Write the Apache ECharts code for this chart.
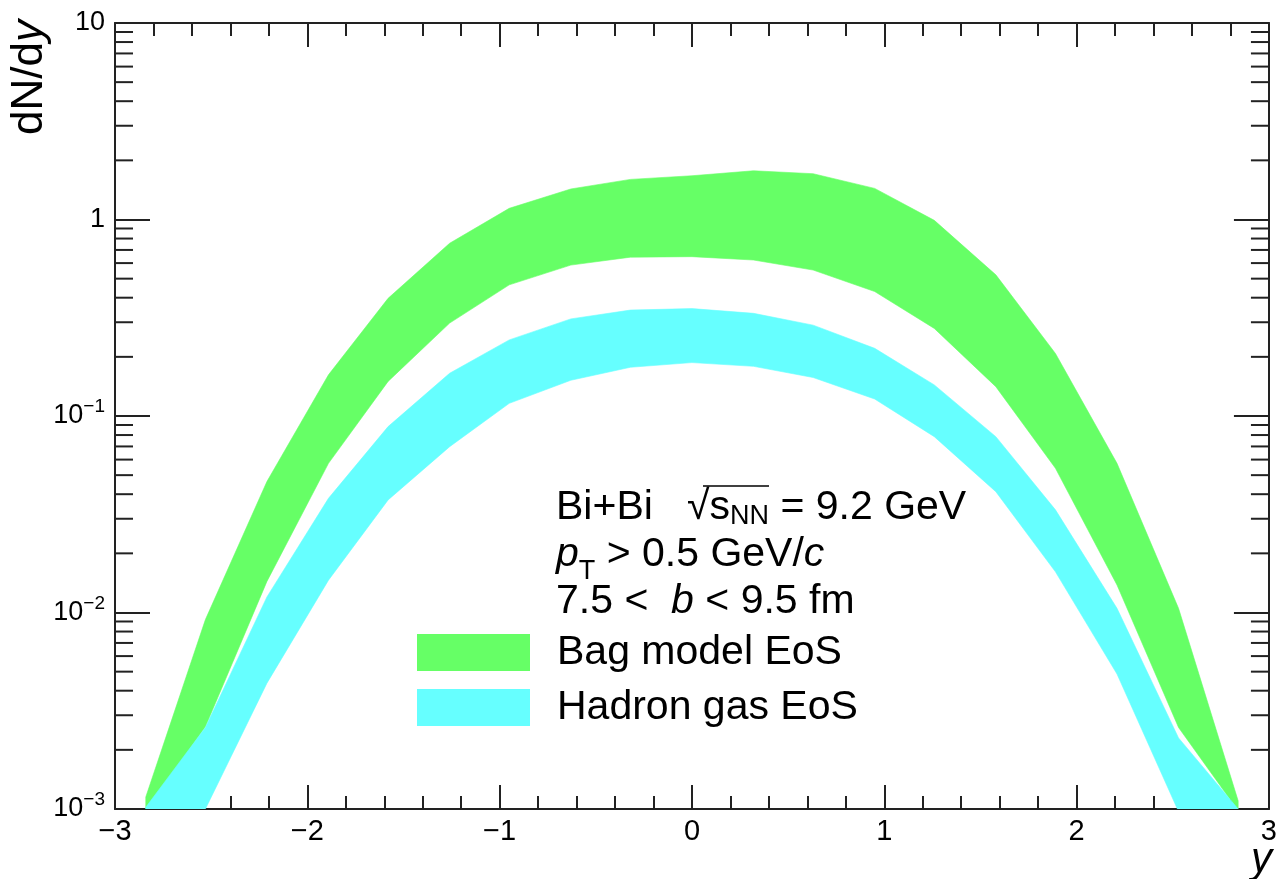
<!DOCTYPE html>
<html><head><meta charset="utf-8">
<script src="https://cdn.jsdelivr.net/npm/echarts@6/dist/echarts.min.js"></script>
<style>html,body{margin:0;padding:0;background:#fff}#c{width:1280px;height:879px}</style>
</head><body><div id="c"></div>
<script>
// ---- data ----
const rapidity = [-2.84,-2.53,-2.21,-1.89,-1.58,-1.26,-0.95,-0.63,-0.32,0,0.32,0.63,0.95,1.26,1.58,1.89,2.21,2.53,2.84];
const bagUpper = [0.00115,0.0092,0.0464,0.162,0.397,0.757,1.14,1.43,1.60,1.67,1.77,1.71,1.44,0.99,0.523,0.208,0.0574,0.0105,0.0011];
const bagLower = [0.00098,0.00262,0.0144,0.0574,0.150,0.297,0.465,0.586,0.643,0.647,0.622,0.553,0.430,0.279,0.141,0.0542,0.0138,0.0026,0.00098];
const hadronUpper = [0.00102,0.0026,0.0120,0.0381,0.0883,0.165,0.244,0.312,0.346,0.352,0.333,0.290,0.221,0.144,0.0785,0.0333,0.0105,0.0023,0.00100];
const hadronLower = [0.0004,0.00100,0.00437,0.0146,0.0374,0.0698,0.116,0.152,0.177,0.187,0.179,0.157,0.122,0.0785,0.0412,0.0161,0.00486,0.00097,0.0004];
const yMinorTicks = [0.002,0.003,0.004,0.005,0.006,0.007,0.008,0.009,
  0.02,0.03,0.04,0.05,0.06,0.07,0.08,0.09,
  0.2,0.3,0.4,0.5,0.6,0.7,0.8,0.9,
  2,3,4,5,6,7,8,9];
const seriesNames = ['Bag model EoS','Hadron gas EoS'];
const seriesColors = ['#66ff66','#66ffff'];

const FONT = "'Liberation Sans', Arial, sans-serif";
const AX = '#222';

function bandSeries(name, color, upper, lower) {
  return {
    type: 'custom', name: name, coordinateSystem: 'cartesian2d',
    xAxisIndex: 0, yAxisIndex: 0, silent: true,
    itemStyle: { color: color },
    data: rapidity.map((x, i) => [x, upper[i], lower[i]]),
    renderItem: function (params, api) {
      if (params.dataIndex !== 0) return null;
      const pts = [];
      for (let i = 0; i < rapidity.length; i++) pts.push(api.coord([rapidity[i], upper[i]]));
      for (let i = rapidity.length - 1; i >= 0; i--) pts.push(api.coord([rapidity[i], lower[i]]));
      const cs = params.coordSys;
      return {
        type: 'group',
        clipPath: { type: 'rect', shape: { x: cs.x, y: cs.y, width: cs.width, height: cs.height } },
        children: [{ type: 'polygon', shape: { points: pts }, style: { fill: color, stroke: color, lineWidth: 0.6 } }]
      };
    }
  };
}

const minorTickSeries = {
  type: 'custom', name: 'yminor', coordinateSystem: 'cartesian2d',
  xAxisIndex: 0, yAxisIndex: 0, silent: true, z: 5,
  data: yMinorTicks.map(v => [0, v]),
  renderItem: function (params, api) {
    const v = api.value(1);
    const cs = params.coordSys;
    const y = api.coord([0, v])[1];
    const L = 18;
    return {
      type: 'group', children: [
        { type: 'line', shape: { x1: cs.x, y1: y, x2: cs.x + L, y2: y }, style: { stroke: AX, lineWidth: 2 } },
        { type: 'line', shape: { x1: cs.x + cs.width, y1: y, x2: cs.x + cs.width - L, y2: y }, style: { stroke: AX, lineWidth: 2 } }
      ]
    };
  }
};

function yLabel(v) {
  const e = Math.round(Math.log10(v));
  if (e === 1) return '10';
  if (e === 0) return '1';
  return '10{sup|\u2212' + (-e) + '}';
}

const xAxisBase = {
  type: 'value', min: -3, max: 3, interval: 1,
  axisLine: { show: true, onZero: false, lineStyle: { color: AX, width: 2 } },
  axisTick: { show: true, inside: true, length: 24, lineStyle: { color: AX, width: 2 } },
  minorTick: { show: true, splitNumber: 5, length: 13, lineStyle: { color: AX, width: 2 } },
  splitLine: { show: false }, minorSplitLine: { show: false }
};
const yAxisBase = {
  type: 'log', logBase: 10, min: 0.001, max: 10, interval: 1,
  axisLine: { show: true, onZero: false, lineStyle: { color: AX, width: 2 } },
  axisTick: { show: true, inside: true, length: 35, lineStyle: { color: AX, width: 2 } },
  minorTick: { show: false },
  splitLine: { show: false }, minorSplitLine: { show: false }
};

const chart = echarts.init(document.getElementById('c'), null, { renderer: 'canvas' });
chart.setOption({
  backgroundColor: '#fff',
  animation: false,
  grid: { left: 115, right: 8, top: 23, bottom: 70 },
  xAxis: [
    Object.assign({}, xAxisBase, {
      position: 'bottom',
      axisLabel: {
        show: true, margin: 8, fontSize: 29, fontFamily: FONT, color: '#000',
        showMinLabel: true, showMaxLabel: true,
        formatter: v => (v < 0 ? '\u2212' + Math.abs(v) : String(v))
      }
    }),
    Object.assign({}, xAxisBase, { position: 'top', axisLabel: { show: false } })
  ],
  yAxis: [
    Object.assign({}, yAxisBase, {
      position: 'left',
      axisLabel: {
        show: true, margin: 10, fontSize: 27, fontFamily: FONT, color: '#000',
        showMinLabel: true, showMaxLabel: true,
        formatter: yLabel,
        rich: { sup: { fontSize: 19, fontFamily: FONT, color: '#000', padding: [0, 0, 18, 0] } }
      }
    }),
    Object.assign({}, yAxisBase, { position: 'right', axisLabel: { show: false } })
  ],
  legend: {
    orient: 'vertical', left: 417, top: 632, padding: 0, itemWidth: 113, itemHeight: 37, itemGap: 14,
    icon: 'rect', selectedMode: false,
    data: seriesNames,
    textStyle: { fontSize: 41, fontFamily: FONT, color: '#000', padding: [0, 0, 0, 22] }
  },
  graphic: [
    { type: 'text', x: 30, y: 20, rotation: Math.PI / 2,
      style: { text: 'dN/d{i|y}', fontSize: 44, fontFamily: FONT, fill: '#000', align: 'right', verticalAlign: 'middle',
        rich: { i: { fontSize: 44, fontFamily: FONT, fontStyle: 'italic', fill: '#000' } } } },
    { type: 'text', x: 1272, y: 860,
      style: { text: 'y', fontSize: 42, fontFamily: FONT, fontStyle: 'italic', fill: '#000', align: 'right', verticalAlign: 'middle' } },
    { type: 'text', x: 556, y: 508,
      style: { text: 'Bi+Bi   \u221A{s|s}{sub|NN} = 9.2 GeV', fontSize: 41, fontFamily: FONT, fill: '#000', align: 'left', verticalAlign: 'middle',
        rich: { s: { fontSize: 41, fontFamily: FONT, fill: '#000' },
                sub: { fontSize: 27, fontFamily: FONT, fill: '#000', padding: [18, 0, 0, 0] } } } },
    { type: 'line', shape: { x1: 703, y1: 486, x2: 769, y2: 486 }, style: { stroke: '#000', lineWidth: 1.5 } },
    { type: 'text', x: 556, y: 555,
      style: { text: '{i|p}{sub|T} > 0.5 GeV/{i|c}', fontSize: 41, fontFamily: FONT, fill: '#000', align: 'left', verticalAlign: 'middle',
        rich: { i: { fontSize: 41, fontFamily: FONT, fontStyle: 'italic', fill: '#000' },
                sub: { fontSize: 27, fontFamily: FONT, fill: '#000', padding: [34, 0, 0, 0] } } } },
    { type: 'text', x: 556, y: 602,
      style: { text: '7.5 <  {i|b} < 9.5 fm', fontSize: 41, fontFamily: FONT, fill: '#000', align: 'left', verticalAlign: 'middle',
        rich: { i: { fontSize: 41, fontFamily: FONT, fontStyle: 'italic', fill: '#000' } } } }
  ],
  series: [
    bandSeries(seriesNames[0], seriesColors[0], bagUpper, bagLower),
    bandSeries(seriesNames[1], seriesColors[1], hadronUpper, hadronLower),
    minorTickSeries
  ]
});
</script></body></html>
